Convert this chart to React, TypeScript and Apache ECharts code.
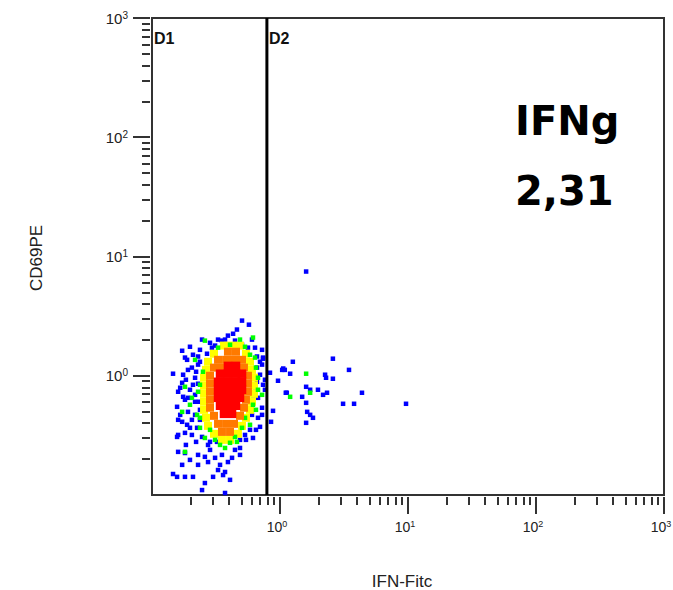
import React, { useEffect, useRef } from "react";
import * as echarts from "echarts";

// Axis decades (log scale) and tick values
const axisMin = 0.1;
const axisMax = 1000;
const majorTicks = [1, 10, 100, 1000];
const minorTicks = [
  0.2, 0.3, 0.4, 0.5, 0.6, 0.7, 0.8, 0.9,
  2, 3, 4, 5, 6, 7, 8, 9,
  20, 30, 40, 50, 60, 70, 80, 90,
  200, 300, 400, 500, 600, 700, 800, 900,
];

// Gate boundary between D1 and D2 on IFN-Fitc axis
const gateX = 0.79;

// Events: [IFN-Fitc, CD69PE], grouped by density colour
const blueEvents: number[][] = [
  [0.505, 2.9], [0.572, 2.68], [0.461, 2.44], [0.43, 2.25], [0.246, 2.01], [0.352, 1.97],
  [0.372, 2.01], [0.445, 1.97], [0.311, 1.79], [0.294, 1.72], [0.505, 1.82], [0.562, 1.72],
  [0.638, 1.72], [0.724, 1.65], [0.172, 1.62], [0.269, 1.53], [0.229, 1.45], [0.181, 1.42],
  [0.661, 1.45], [0.737, 1.42], [0.229, 1.24], [0.205, 1.17], [0.146, 1.04], [0.175, 1.02],
  [0.217, 0.962], [0.661, 1.17], [0.698, 1.02], [0.661, 0.89], [0.172, 0.873], [0.198, 0.763],
  [0.175, 0.666], [0.638, 0.734], [0.673, 0.653], [0.157, 0.549], [0.217, 0.605], [0.615, 0.629],
  [0.724, 0.539], [0.191, 0.498], [0.217, 0.47], [0.172, 0.411], [0.188, 0.388], [0.604, 0.47],
  [0.698, 0.373], [0.16, 0.319], [0.181, 0.332], [0.205, 0.319], [0.246, 0.307], [0.615, 0.301],
  [0.274, 0.263], [0.322, 0.279], [0.533, 0.319], [0.16, 0.23], [0.229, 0.217], [0.259, 0.209],
  [0.392, 0.189], [0.311, 0.205], [0.229, 0.179], [0.274, 0.189], [0.328, 0.162], [0.372, 0.156],
  [0.157, 0.142], [0.181, 0.142], [0.209, 0.142], [0.3, 0.142], [0.359, 0.147], [0.407, 0.134],
  [0.259, 0.126], [0.246, 0.11], [0.372, 0.104], [0.146, 0.15], [0.157, 0.307], [0.181, 0.225],
  [0.188, 1.36], [0.209, 0.84], [0.16, 0.734], [0.191, 0.653], [0.237, 0.518], [0.205, 0.427],
  [0.225, 0.366], [0.16, 0.427], [0.284, 0.239], [0.352, 0.217], [0.445, 0.239], [0.487, 0.29],
  [0.583, 0.352], [0.724, 1.24], [0.763, 0.926], [0.763, 0.763],
  [0.237, 1.65], [0.209, 1.5], [0.237, 1.31], [0.191, 1.12], [0.221, 1.08], [0.184, 0.926],
  [0.229, 0.857], [0.166, 0.793], [0.217, 0.692], [0.181, 0.629], [0.233, 0.605], [0.166, 0.47],
  [0.237, 0.427], [0.198, 0.366], [0.221, 0.279], [0.184, 0.263], [0.284, 0.279], [0.487, 0.248],
  [0.542, 0.29], [0.649, 0.352], [0.673, 0.444], [0.724, 0.47], [0.737, 0.84], [0.698, 1.31],
  [0.604, 2.01], [0.392, 2.17], [0.328, 2.01], [0.284, 1.89], [0.198, 1.75], [0.34, 0.179],
  [0.422, 0.205], [0.487, 0.217], [0.198, 0.197], [0.172, 0.179],
  [0.737, 1.39], [0.835, 1.06], [0.851, 0.411], [0.882, 0.508], [0.965, 0.908], [1.04, 1.12],
  [1.09, 1.12], [1.2, 1.04], [1.13, 0.72], [1.26, 1.31], [1.49, 0.666], [1.6, 0.808],
  [1.72, 0.763], [1.98, 0.763], [2.17, 0.692], [2.33, 0.72], [1.6, 0.593], [1.63, 0.498],
  [1.72, 0.47], [1.81, 0.444], [1.6, 0.403], [2.25, 1.02], [2.29, 0.962], [2.59, 0.944],
  [2.59, 1.39], [3.46, 1.12], [3.11, 0.582], [3.79, 0.582], [4.37, 0.72], [1.6, 7.48],
  [9.65, 0.582], [1.06, 1.15], [1.11, 0.72],
];

const greenEvents: number[][] = [
  [0.615, 2.09], [0.259, 1.97], [0.328, 1.72], [0.533, 1.75], [0.638, 1.42], [0.673, 0.962],
  [0.724, 0.692], [0.615, 0.571], [0.181, 0.808], [0.198, 0.571], [0.172, 0.498], [0.225, 0.47],
  [0.237, 0.366], [0.259, 0.301], [0.181, 0.23], [0.505, 0.366], [0.533, 0.444], [0.461, 0.279],
  [0.372, 0.248], [0.311, 0.29], [0.25, 1.08], [0.229, 0.734], [0.583, 1.5], [0.407, 0.274],
  [0.217, 1.36], [0.237, 0.84], [0.205, 0.653], [0.237, 0.444], [0.284, 0.352], [0.34, 0.263],
  [0.445, 0.307], [0.583, 0.388], [0.649, 0.518], [0.673, 0.763], [0.649, 1.17], [0.487, 2.01],
  [0.407, 1.82],
  [1.6, 1.04], [1.2, 0.666], [1.72, 0.72],
];

const yellowEvents: number[][] = [
  [0.365, 1.79], [0.422, 1.79], [0.487, 1.79], [0.305, 1.53], [0.542, 1.53], [0.274, 1.31],
  [0.583, 1.31], [0.264, 1.12], [0.604, 1.12], [0.255, 0.962], [0.626, 0.962], [0.255, 0.824],
  [0.626, 0.824], [0.255, 0.706], [0.626, 0.706], [0.255, 0.605], [0.604, 0.605], [0.255, 0.518],
  [0.583, 0.518], [0.264, 0.444], [0.542, 0.444], [0.274, 0.38], [0.505, 0.38], [0.305, 0.326],
  [0.469, 0.326], [0.352, 0.29], [0.407, 0.29],
];

const orangeEvents: number[][] = [
  [0.392, 1.59], [0.453, 1.59], [0.328, 1.36], [0.379, 1.36], [0.437, 1.36], [0.505, 1.36],
  [0.305, 1.17], [0.352, 1.17], [0.523, 1.17], [0.284, 1.0], [0.562, 1.0], [0.284, 0.857],
  [0.562, 0.857], [0.284, 0.734], [0.562, 0.734], [0.284, 0.629], [0.542, 0.629], [0.284, 0.539],
  [0.523, 0.539], [0.305, 0.461], [0.487, 0.461], [0.328, 0.395], [0.379, 0.395], [0.437, 0.395],
  [0.352, 0.338], [0.407, 0.338],
];

const redEvents: number[][] = [
  [0.392, 1.21], [0.453, 1.21], [0.34, 1.04], [0.392, 1.04], [0.453, 1.04], [0.505, 1.04],
  [0.328, 0.89], [0.379, 0.89], [0.437, 0.89], [0.505, 0.89], [0.328, 0.763], [0.379, 0.763],
  [0.437, 0.763], [0.505, 0.763], [0.328, 0.653], [0.379, 0.653], [0.437, 0.653], [0.487, 0.653],
  [0.34, 0.56], [0.392, 0.56], [0.453, 0.56], [0.365, 0.479], [0.422, 0.479],
];

const xTitle = "IFN-Fitc";
const yTitle = "CD69PE";
const gateLabels = ["D1", "D2"];
const statTitle = "IFNg";
const statValue = "2,31";

const labelFont = "'Liberation Sans', Arial, sans-serif";

const tickLabelFormatter = (v: number) => {
  const e = Math.round(Math.log10(v));
  return "{b|10}{s|" + e + "}";
};

const xTickLabelRich = {
  b: { fontSize: 14, fontFamily: labelFont, color: "#222", lineHeight: 16 },
  s: {
    fontSize: 9,
    fontFamily: labelFont,
    color: "#222",
    lineHeight: 7,
    verticalAlign: "top",
    padding: [0, 6, 0, 0],
  },
};

const yTickLabelRich = {
  b: { fontSize: 15, fontFamily: labelFont, color: "#222", lineHeight: 16 },
  s: { fontSize: 10, fontFamily: labelFont, color: "#222", lineHeight: 7, verticalAlign: "top" },
};

const tickStyle = { color: "#333", width: 2 };

function scatter(name: string, data: number[][], color: string, size: number) {
  return {
    name,
    type: "scatter",
    data,
    symbol: "rect",
    symbolSize: size,
    itemStyle: { color, opacity: 1 },
    silent: true,
  };
}

function textEl(x: number, y: number, text: string, font: string, fill: string, align: string, rotation = 0) {
  return {
    type: "text",
    x,
    y,
    rotation,
    style: {
      text,
      fill,
      font,
      align,
      verticalAlign: "middle",
      textAlign: align,
      textVerticalAlign: "middle",
    },
  };
}

export default function App() {
  const ref = useRef<HTMLDivElement>(null);

  useEffect(() => {
    if (!ref.current) return;
    const chart = echarts.init(ref.current, undefined, { renderer: "svg" });
    const baseAxis = {
      type: "log",
      logBase: 10,
      min: axisMin,
      max: axisMax,
      offset: 2,
      axisLine: { show: false },
      splitLine: { show: false },
    };
    const bigFont = "bold 40px 'DejaVu Sans', Verdana, sans-serif";
    chart.setOption({
      animation: false,
      backgroundColor: "#fff",
      grid: {
        left: 152,
        top: 18,
        width: 512,
        height: 477,
        show: true,
        borderColor: "#333",
        borderWidth: 2,
        backgroundColor: "transparent",
        containLabel: false,
        outerBoundsMode: "none",
      },
      xAxis: [
        {
          ...baseAxis,
          position: "bottom",
          axisTick: { show: true, customValues: majorTicks, length: 17, lineStyle: tickStyle },
          axisLabel: {
            show: true,
            customValues: majorTicks,
            margin: 22,
            formatter: tickLabelFormatter,
            rich: xTickLabelRich,
          },
        },
        {
          ...baseAxis,
          position: "bottom",
          axisTick: { show: true, customValues: minorTicks, length: 8, lineStyle: tickStyle },
          axisLabel: { show: false },
        },
      ],
      yAxis: [
        {
          ...baseAxis,
          position: "left",
          axisTick: { show: true, customValues: majorTicks, length: 17, lineStyle: tickStyle },
          axisLabel: {
            show: true,
            customValues: majorTicks,
            margin: 22,
            formatter: tickLabelFormatter,
            rich: yTickLabelRich,
          },
        },
        {
          ...baseAxis,
          position: "left",
          axisTick: { show: true, customValues: minorTicks, length: 8, lineStyle: tickStyle },
          axisLabel: { show: false },
        },
      ],
      series: [
        scatter("blue", blueEvents, "#0000ff", 4.5),
        scatter("yellow", yellowEvents, "#ffff00", 8),
        scatter("green", greenEvents, "#00ff00", 4.5),
        scatter("orange", orangeEvents, "#ff7a00", 8),
        scatter("red", redEvents, "#ff0000", 8.5),
        {
          type: "line",
          data: [
            [gateX, axisMin],
            [gateX, axisMax],
          ],
          symbol: "none",
          lineStyle: { color: "#000", width: 3 },
          silent: true,
          z: 5,
        },
      ],
      graphic: [
        textEl(154, 38, gateLabels[0], "bold 16px " + labelFont, "#111", "left"),
        textEl(269, 38, gateLabels[1], "bold 16px " + labelFont, "#111", "left"),
        textEl(515, 121, statTitle, bigFont, "#000", "left"),
        textEl(515, 191, statValue, bigFont, "#000", "left"),
        textEl(402, 581, xTitle, "17px " + labelFont, "#222", "center"),
        textEl(36, 258, yTitle, "17px " + labelFont, "#222", "center", Math.PI / 2),
      ],
    });
    return () => chart.dispose();
  }, []);

  return (
    <div
      ref={ref}
      style={{ position: "absolute", left: 0, top: 0, width: 673, height: 590, background: "#fff" }}
    />
  );
}
